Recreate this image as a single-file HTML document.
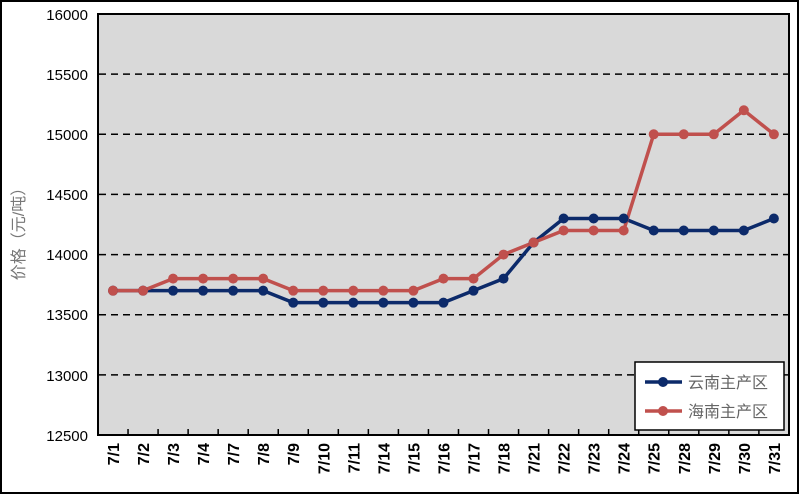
<!DOCTYPE html><html><head><meta charset="utf-8"><style>body{margin:0;background:#fff}svg{display:block}</style></head><body>
<svg width="800" height="495" xmlns="http://www.w3.org/2000/svg" font-family="'Liberation Sans','Noto Sans CJK SC',sans-serif">
<rect x="1" y="1" width="797" height="492" fill="#fff" stroke="#000" stroke-width="2"/>
<rect x="98" y="14" width="691" height="421" fill="#d9d9d9" stroke="#000" stroke-width="2"/>
<g stroke="#000" stroke-width="1.5" stroke-dasharray="7,5">
<line x1="99" x2="788" y1="74.1" y2="74.1"/><line x1="99" x2="788" y1="134.3" y2="134.3"/><line x1="99" x2="788" y1="194.4" y2="194.4"/><line x1="99" x2="788" y1="254.6" y2="254.6"/><line x1="99" x2="788" y1="314.7" y2="314.7"/><line x1="99" x2="788" y1="374.9" y2="374.9"/>
</g>
<g font-size="15" fill="#000" text-anchor="end">
<text x="88" y="20">16000</text><text x="88" y="80">15500</text><text x="88" y="140">15000</text><text x="88" y="200">14500</text><text x="88" y="260">14000</text><text x="88" y="320">13500</text><text x="88" y="381">13000</text><text x="88" y="441">12500</text>
</g>
<text transform="translate(24,230) rotate(-90)" font-size="16" fill="#777" text-anchor="middle">价格（元/吨）</text>
<g id="ticks" stroke="#000" stroke-width="1.5"></g>
<g id="xl" font-size="16" font-weight="bold" fill="#000"></g>
<polyline id="yn" fill="none" stroke="#0c2a6a" stroke-width="3.5"/>
<polyline id="hn" fill="none" stroke="#c0504d" stroke-width="3.5"/>
<g id="yd" fill="#0c2a6a"></g><g id="hd" fill="#c0504d"></g>
<rect x="635" y="362" width="149" height="68" fill="#fff" stroke="#000" stroke-width="1.5"/>
<line x1="645" x2="682" y1="382" y2="382" stroke="#0c2a6a" stroke-width="3.5"/><circle cx="663" cy="382" r="5" fill="#0c2a6a"/>
<line x1="645" x2="682" y1="411" y2="411" stroke="#c0504d" stroke-width="3.5"/><circle cx="663" cy="411" r="5" fill="#c0504d"/>
<text x="688" y="388" font-size="16" fill="#666">云南主产区</text>
<text x="688" y="417" font-size="16" fill="#666">海南主产区</text>
</svg>
<script>
var L=["7/1","7/2","7/3","7/4","7/7","7/8","7/9","7/10","7/11","7/14","7/15","7/16","7/17","7/18","7/21","7/22","7/23","7/24","7/25","7/28","7/29","7/30","7/31"];
var Y=[13700,13700,13700,13700,13700,13700,13600,13600,13600,13600,13600,13600,13700,13800,14100,14300,14300,14300,14200,14200,14200,14200,14300];
var H=[13700,13700,13800,13800,13800,13800,13700,13700,13700,13700,13700,13800,13800,14000,14100,14200,14200,14200,15000,15000,15000,15200,15000];
var ns="http://www.w3.org/2000/svg";function px(i){return 113+30.04*i}function py(v){return 435-(v-12500)*421/3500}
function pts(a){return a.map(function(v,i){return px(i)+","+py(v)}).join(" ")}
document.getElementById("yn").setAttribute("points",pts(Y));document.getElementById("hn").setAttribute("points",pts(H));
function dots(a,id){var g=document.getElementById(id);a.forEach(function(v,i){var c=document.createElementNS(ns,"circle");c.setAttribute("cx",px(i));c.setAttribute("cy",py(v));c.setAttribute("r",5);g.appendChild(c)})}
dots(Y,"yd");dots(H,"hd");
var t=document.getElementById("ticks"),xl=document.getElementById("xl");
for(var i=0;i<=23;i++){var l=document.createElementNS(ns,"line");var x=98+30.04*i;l.setAttribute("x1",x);l.setAttribute("x2",x);l.setAttribute("y1",429);l.setAttribute("y2",435);t.appendChild(l)}
L.forEach(function(s,i){var e=document.createElementNS(ns,"text");e.setAttribute("transform","translate("+(px(i)+6)+",443) rotate(-90)");e.setAttribute("text-anchor","end");e.textContent=s;xl.appendChild(e)});
</script>
</body></html>
